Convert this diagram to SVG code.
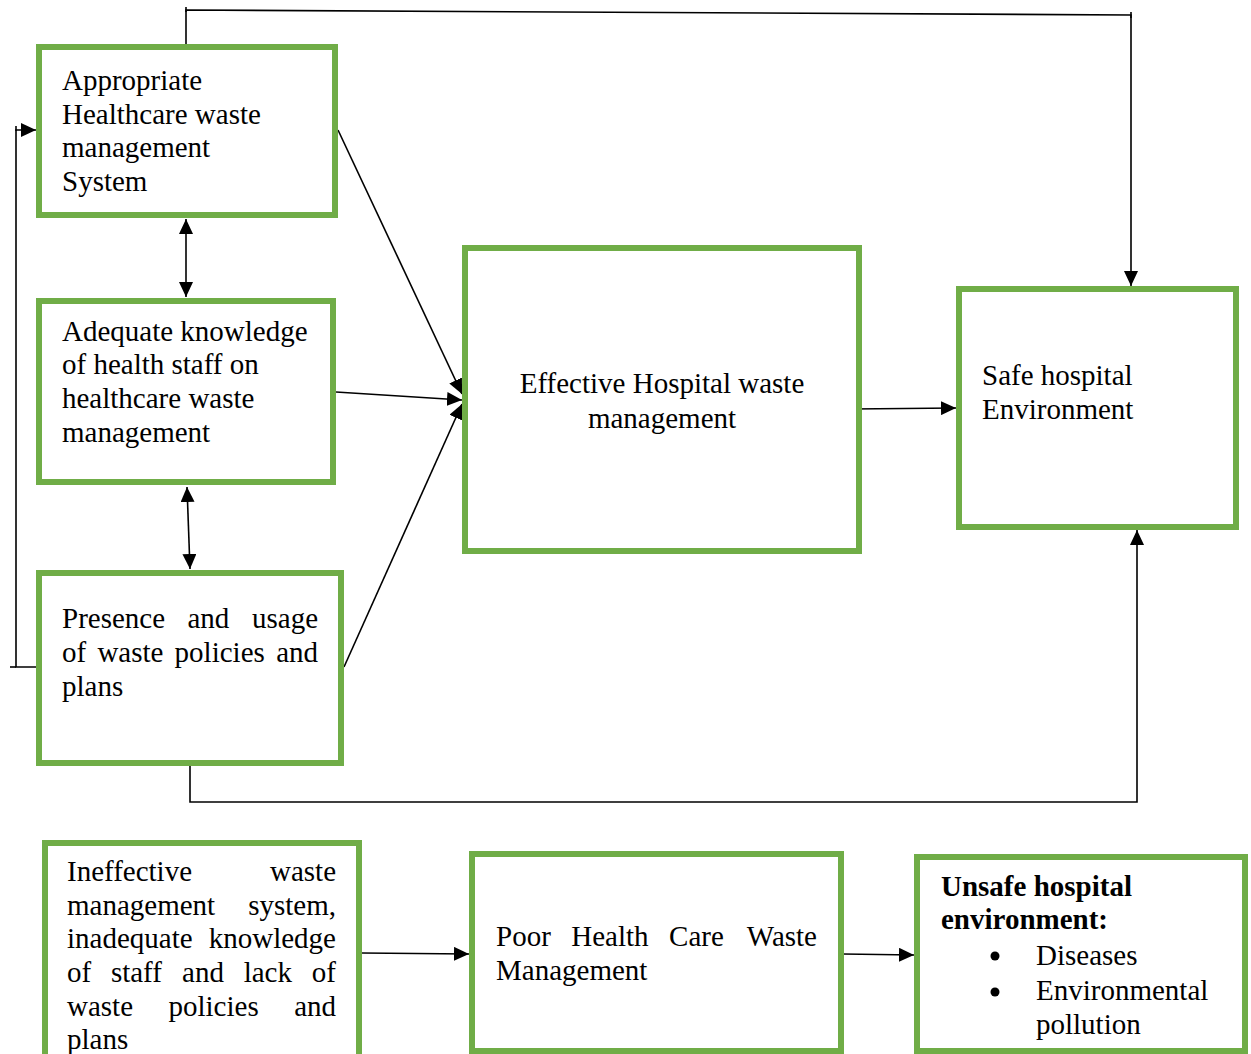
<svg xmlns="http://www.w3.org/2000/svg" width="1251" height="1054" viewBox="0 0 1251 1054">
<style>
.box{fill:#ffffff;stroke:#70ad47;stroke-width:6}
.t{font-family:"Liberation Serif","Times New Roman",serif;font-size:29px;fill:#000}
.b{font-weight:bold}
.c{fill:none;stroke:#000;stroke-width:1.6}
</style>
<defs>
<marker id="ah" markerUnits="userSpaceOnUse" markerWidth="15" markerHeight="14" viewBox="0 0 15 14" refX="15" refY="7" orient="auto-start-reverse">
<path d="M0,0 L15,7 L0,14 z" fill="#000"/>
</marker>
</defs>
<rect width="1251" height="1054" fill="#ffffff"/>

<g id="connectors">
<polyline class="c" points="186,44 186,10 1131,15 1131,286" marker-end="url(#ah)"/>
<line class="c" x1="186" y1="7" x2="186" y2="12"/>
<line class="c" x1="1131" y1="12" x2="1131" y2="18"/>
<polyline class="c" points="37,667 16,667 16,130 36,130" marker-end="url(#ah)"/>
<line class="c" x1="10" y1="667" x2="16" y2="667"/>
<line class="c" x1="16" y1="126" x2="16" y2="131"/>
<polyline class="c" points="190,766 190,802 1137,802 1137,530" marker-end="url(#ah)"/>
<line class="c" x1="186" y1="219" x2="186" y2="297" marker-start="url(#ah)" marker-end="url(#ah)"/>
<line class="c" x1="187" y1="487" x2="190" y2="569" marker-start="url(#ah)" marker-end="url(#ah)"/>
<line class="c" x1="338" y1="130" x2="462" y2="394" marker-end="url(#ah)"/>
<line class="c" x1="336" y1="392" x2="462" y2="400" marker-end="url(#ah)"/>
<line class="c" x1="344" y1="667" x2="462" y2="404" marker-end="url(#ah)"/>
<line class="c" x1="852" y1="409" x2="956" y2="408" marker-end="url(#ah)"/>
<line class="c" x1="362" y1="953" x2="469" y2="954" marker-end="url(#ah)"/>
<line class="c" x1="843" y1="954" x2="914" y2="955" marker-end="url(#ah)"/>
</g>

<g id="node-appropriate">
<rect class="box" x="39" y="47" width="296" height="168"/>
<text class="t" x="62" y="90">Appropriate</text>
<text class="t" x="62" y="124">Healthcare waste</text>
<text class="t" x="62" y="157">management</text>
<text class="t" x="62" y="191">System</text>
</g>

<g id="node-knowledge">
<rect class="box" x="39" y="301" width="294" height="181"/>
<text class="t" x="62" y="341">Adequate knowledge</text>
<text class="t" x="62" y="374">of health staff on</text>
<text class="t" x="62" y="408">healthcare waste</text>
<text class="t" x="62" y="442">management</text>
</g>

<g id="node-policies">
<rect class="box" x="39" y="573" width="302" height="190"/>
<text class="t" y="628"><tspan x="62">Presence</tspan><tspan x="187.5">and</tspan><tspan x="318" text-anchor="end">usage</tspan></text>
<text class="t" y="662"><tspan x="62">of</tspan><tspan x="97.4">waste</tspan><tspan x="174.6">policies</tspan><tspan x="318" text-anchor="end">and</tspan></text>
<text class="t" x="62" y="696">plans</text>
</g>

<g id="node-effective">
<rect class="box" x="465" y="248" width="394" height="303"/>
<text class="t" x="662" y="393" text-anchor="middle">Effective Hospital waste</text>
<text class="t" x="662" y="428" text-anchor="middle">management</text>
</g>

<g id="node-safe">
<rect class="box" x="959" y="289" width="277" height="238"/>
<text class="t" x="982" y="385">Safe hospital</text>
<text class="t" x="982" y="419">Environment</text>
</g>

<g id="node-ineffective">
<rect class="box" x="45" y="843" width="314" height="230"/>
<text class="t" y="881"><tspan x="67">Ineffective</tspan><tspan x="336" text-anchor="end">waste</tspan></text>
<text class="t" y="915"><tspan x="67">management</tspan><tspan x="336" text-anchor="end">system,</tspan></text>
<text class="t" y="948"><tspan x="67">inadequate</tspan><tspan x="336" text-anchor="end">knowledge</tspan></text>
<text class="t" y="982"><tspan x="67">of</tspan><tspan x="110.9">staff</tspan><tspan x="182.1">and</tspan><tspan x="243.7">lack</tspan><tspan x="336" text-anchor="end">of</tspan></text>
<text class="t" y="1016"><tspan x="67">waste</tspan><tspan x="168.5">policies</tspan><tspan x="336" text-anchor="end">and</tspan></text>
<text class="t" x="67" y="1049">plans</text>
</g>

<g id="node-poor">
<rect class="box" x="472" y="854" width="369" height="197"/>
<text class="t" y="946"><tspan x="496">Poor</tspan><tspan x="571.3">Health</tspan><tspan x="669.1">Care</tspan><tspan x="817" text-anchor="end">Waste</tspan></text>
<text class="t" x="496" y="980">Management</text>
</g>

<g id="node-unsafe">
<rect class="box" x="917" y="857" width="328" height="194"/>
<text class="t b" x="941" y="896">Unsafe hospital</text>
<text class="t b" x="941" y="929">environment:</text>
<circle cx="995" cy="956" r="4.5" fill="#000"/>
<text class="t" x="1036" y="965">Diseases</text>
<circle cx="995" cy="992" r="4.5" fill="#000"/>
<text class="t" x="1036" y="1000">Environmental</text>
<text class="t" x="1036" y="1034">pollution</text>
</g>
</svg>
